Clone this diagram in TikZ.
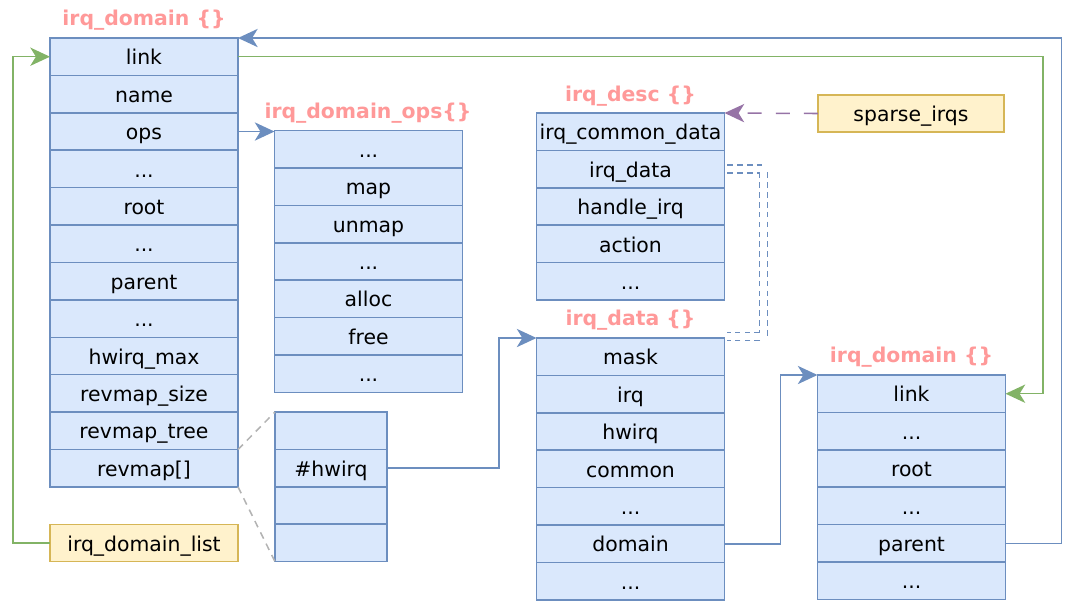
\documentclass[tikz,border=0pt]{standalone}
\usepackage{fontspec}
\setmainfont{DejaVu Sans}
\usetikzlibrary{arrows.meta, positioning}
\definecolor{fieldfill}{HTML}{DAE8FC}
\definecolor{fieldline}{HTML}{6C8EBF}
\definecolor{globalfill}{HTML}{FFF2CC}
\definecolor{globalline}{HTML}{D6B656}
\definecolor{listgreen}{HTML}{82B366}
\definecolor{sparsepurple}{HTML}{9673A6}
\definecolor{titlered}{HTML}{FF9999}
\definecolor{mapgray}{HTML}{B3B3B3}
\tikzset{
    % Struct member - blue cell
    field/.style={rectangle, draw=fieldline, fill=fieldfill, line width=1.1pt,
        minimum width=4.7cm, minimum height=0.935cm, inner sep=0pt, outer sep=0pt,
        text height=13pt, text depth=1.5pt, font=\fontsize{14.5}{16}\selectfont},
    % Slot of the revmap array - narrow blue cell
    slot/.style={field, minimum width=2.8cm},
    % Global variable - yellow box
    global/.style={field, draw=globalline, fill=globalfill},
    % Struct name above the members
    struct title/.style={font=\fontsize{14.5}{16}\selectfont\bfseries, text=titlered},
    % Pointer to a struct - blue arrow
    pointer/.style={draw=fieldline, line width=1.1pt, -{Stealth[length=14pt, width=13pt, inset=4pt]}},
    % List linkage - green arrow
    list link/.style={pointer, draw=listgreen},
    % Radix tree of the descriptors - purple dashed arrow
    sparse link/.style={pointer, draw=sparsepurple, dash pattern=on 10pt off 10pt},
    % Embedded struct - blue dashed double line
    embed line/.style={draw=fieldline, line width=1.1pt, double=white, double distance=4.5pt,
        dash pattern=on 4pt off 3pt},
    % Zoom into revmap[] - gray dashed lines
    zoom line/.style={draw=mapgray, line width=1.1pt, dash pattern=on 5pt off 4pt}
}

\begin{document}
\begin{tikzpicture}[x=0.025cm, y=-0.025cm]
    \useasboundingbox (0,0) rectangle (1080,601);

    % --- irq_domain (left) ---
    \node[struct title] (dom_title) at (144,20) {irq\_domain \{\}};
    \node[field] (dom_link) at (144,56.7) {link};
    \node[field, below=0pt of dom_link] (dom_name) {name};
    \node[field, below=0pt of dom_name] (dom_ops) {ops};
    \node[field, below=0pt of dom_ops] (dom_dots1) {...};
    \node[field, below=0pt of dom_dots1] (dom_root) {root};
    \node[field, below=0pt of dom_root] (dom_dots2) {...};
    \node[field, below=0pt of dom_dots2] (dom_parent) {parent};
    \node[field, below=0pt of dom_parent] (dom_dots3) {...};
    \node[field, below=0pt of dom_dots3] (dom_hwmax) {hwirq\_max};
    \node[field, below=0pt of dom_hwmax] (dom_size) {revmap\_size};
    \node[field, below=0pt of dom_size] (dom_tree) {revmap\_tree};
    \node[field, below=0pt of dom_tree] (dom_revmap) {revmap[]};

    \node[global] (domain_list) at (144,543) {irq\_domain\_list};

    % --- irq_domain_ops ---
    \node[struct title] (ops_title) at (368,113) {irq\_domain\_ops\{\}};
    \node[field] (ops_dots1) at (368.5,149.2) {...};
    \node[field, below=0pt of ops_dots1] (ops_map) {map};
    \node[field, below=0pt of ops_map] (ops_unmap) {unmap};
    \node[field, below=0pt of ops_unmap] (ops_dots2) {...};
    \node[field, below=0pt of ops_dots2] (ops_alloc) {alloc};
    \node[field, below=0pt of ops_alloc] (ops_free) {free};
    \node[field, below=0pt of ops_free] (ops_dots3) {...};

    % --- revmap[] slots ---
    \node[slot] (map_slot1) at (331,430.7) {};
    \node[slot, below=0pt of map_slot1] (map_hwirq) {\#hwirq};
    \node[slot, below=0pt of map_hwirq] (map_slot3) {};
    \node[slot, below=0pt of map_slot3] (map_slot4) {};

    % --- irq_desc ---
    \node[struct title] (desc_title) at (630.5,96) {irq\_desc \{\}};
    \node[field] (desc_common) at (630.5,131.7) {irq\_common\_data};
    \node[field, below=0pt of desc_common] (desc_data) {irq\_data};
    \node[field, below=0pt of desc_data] (desc_handle) {handle\_irq};
    \node[field, below=0pt of desc_handle] (desc_action) {action};
    \node[field, below=0pt of desc_action] (desc_dots) {...};

    \node[global, minimum width=4.65cm] (sparse_irqs) at (911,113.5) {sparse\_irqs};

    % --- irq_data ---
    \node[struct title] (data_title) at (630.5,320) {irq\_data \{\}};
    \node[field] (data_mask) at (630.5,356.7) {mask};
    \node[field, below=0pt of data_mask] (data_irq) {irq};
    \node[field, below=0pt of data_irq] (data_hwirq) {hwirq};
    \node[field, below=0pt of data_hwirq] (data_common) {common};
    \node[field, below=0pt of data_common] (data_dots1) {...};
    \node[field, below=0pt of data_dots1] (data_domain) {domain};
    \node[field, below=0pt of data_domain] (data_dots2) {...};

    % --- irq_domain (parent) ---
    \node[struct title] (pdom_title) at (911.5,357) {irq\_domain \{\}};
    \node[field] (pdom_link) at (911.5,393.7) {link};
    \node[field, below=0pt of pdom_link] (pdom_dots1) {...};
    \node[field, below=0pt of pdom_dots1] (pdom_root) {root};
    \node[field, below=0pt of pdom_root] (pdom_dots2) {...};
    \node[field, below=0pt of pdom_dots2] (pdom_parent) {parent};
    \node[field, below=0pt of pdom_parent] (pdom_dots3) {...};

    % --- Connectors ---
    \draw[list link] (domain_list.west) -- ++(-37,0) |- (dom_link.west);
    \draw[list link] (dom_link.east) -- ++(805,0) |- (pdom_link.east);
    \draw[pointer] (pdom_parent.east) -- ++(56,0) |- (dom_link.north east);
    \draw[pointer] (dom_ops.east) -- (dom_ops.east -| ops_dots1.north west);
    \draw[pointer] (map_hwirq.east) -- ++(112,0) |- (data_mask.north west);
    \draw[pointer] (data_domain.east) -- ++(56,0) |- (pdom_link.north west);
    \draw[sparse link] (sparse_irqs.west) -- (desc_common.north east);
    \draw[embed line] ([xshift=2pt]desc_data.east) -- ++(36,0) |- ([xshift=2pt, yshift=1pt]data_mask.north east);
    \draw[zoom line] (dom_revmap.north east) -- (map_slot1.north west);
    \draw[zoom line] (dom_revmap.south east) -- (map_slot4.south west);

\end{tikzpicture}
\end{document}
